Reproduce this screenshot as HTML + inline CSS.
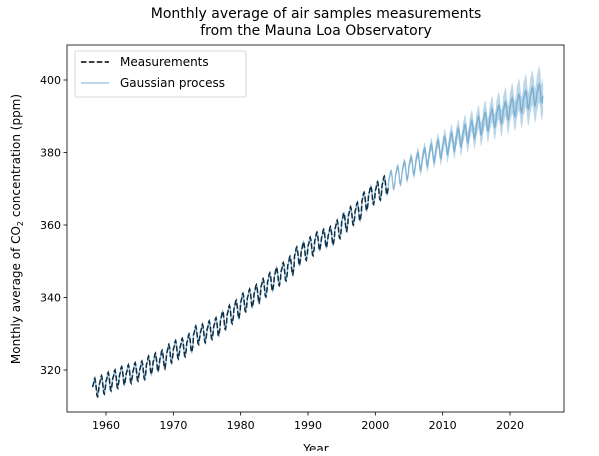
<!DOCTYPE html>
<html><head><meta charset="utf-8"><style>
body{margin:0;background:#fff}
svg{font-family:"DejaVu Sans","Liberation Sans",sans-serif}
</style></head><body>
<svg id="chart" width="599" height="451" viewBox="0 0 599 451" xmlns="http://www.w3.org/2000/svg">
<text x="316" y="18" font-size="14" text-anchor="middle">Monthly average of air samples measurements</text>
<text x="316" y="35" font-size="14" text-anchor="middle">from the Mauna Loa Observatory</text>
<g id="plot"></g>
<text x="316" y="453" font-size="12" text-anchor="middle">Year</text>
<text transform="translate(20,229) rotate(-90)" font-size="12" text-anchor="middle">Monthly average of CO<tspan font-size="8" dy="3">2</tspan><tspan dy="-3"> concentration (ppm)</tspan></text>
</svg>
<script>
const measYears=[1958,1959,1960,1961,1962,1963,1964,1965,1966,1967,1968,1969,1970,1971,1972,1973,1974,1975,1976,1977,1978,1979,1980,1981,1982,1983,1984,1985,1986,1987,1988,1989,1990,1991,1992,1993,1994,1995,1996,1997,1998,1999,2000,2001];
const measAnnual=[315.3,316.0,316.9,317.6,318.5,319.0,319.6,320.0,321.4,322.2,323.0,324.6,325.7,326.3,327.5,329.7,330.2,331.1,332.0,333.8,335.4,336.8,338.7,339.9,341.1,342.8,344.4,345.9,347.2,348.9,351.5,352.9,354.2,355.6,356.4,357.1,358.9,360.9,362.6,363.8,366.6,368.3,369.5,371.0];
const seasonal=[0.0,0.5,1.1,2.1,2.4,1.8,0.6,-1.0,-2.4,-2.6,-1.6,-0.7];
const predYears=[2002,2003,2004,2005,2006,2007,2008,2009,2010,2011,2012,2013,2014,2015,2016,2017,2018,2019,2020,2021,2022,2023,2024];
const predAnnual=[372.5,373.8,375.1,376.4,377.6,378.8,379.9,381.0,382.0,383.1,384.2,385.3,386.4,387.5,388.6,389.6,390.6,391.6,392.6,393.6,394.6,395.5,396.4];
const predStd=[0.6,0.8,1.0,1.2,1.4,1.6,1.8,2.0,2.2,2.4,2.6,2.8,3.0,3.2,3.4,3.6,3.8,4.0,4.2,4.4,4.6,4.8,5.0];
const xTicks=[1960,1970,1980,1990,2000,2010,2020];
const yTicks=[320,340,360,380,400];

const L=67,R=564,T=45,B=412;
const sx=v=>106+(v-1960)*6.733;
const sy=v=>80+(400-v)*3.625;
const NS="http://www.w3.org/2000/svg";
const g=document.getElementById('plot');
function mk(tag,attrs,parent){const e=document.createElementNS(NS,tag);for(const k in attrs)e.setAttribute(k,attrs[k]);(parent||g).appendChild(e);return e;}

const meas=[];measYears.forEach((y,i)=>seasonal.forEach((s,m)=>meas.push([y+m/12,measAnnual[i]+s])));
const pred=[];const band=[];
predYears.forEach((y,i)=>seasonal.forEach((s,m)=>{pred.push([y+m/12,predAnnual[i]+s]);band.push([y+m/12,predAnnual[i]+s,predStd[i]]);}));
const gpAll=meas.concat(pred);
const bandAll=meas.map(p=>[p[0],p[1],0.5]).concat(band);

const up=bandAll.map(p=>sx(p[0]).toFixed(1)+','+sy(p[1]+p[2]).toFixed(1));
const dn=bandAll.slice().reverse().map(p=>sx(p[0]).toFixed(1)+','+sy(p[1]-p[2]).toFixed(1));
const bandEl=mk('polygon',{points:up.concat(dn).join(' '),fill:'#1f77b4','fill-opacity':0.3});



const measEl=mk('polyline',{points:meas.map(p=>sx(p[0]).toFixed(1)+','+sy(p[1]).toFixed(1)).join(' '),fill:'none',stroke:'#000','stroke-width':1.5,'stroke-dasharray':'5.5,2.4'});



const gpEl=mk('polyline',{points:gpAll.map(p=>sx(p[0]).toFixed(1)+','+sy(p[1]).toFixed(1)).join(' '),fill:'none',stroke:'#1f77b4','stroke-opacity':0.4,'stroke-width':1.5});



const frame=mk('rect',{x:L,y:T,width:R-L,height:B-T,fill:'none',stroke:'#000','stroke-width':0.8});



xTicks.forEach(t=>{
  const x=sx(t);
  const tk=mk('line',{x1:x,x2:x,y1:B,y2:B+3.5,stroke:'#000','stroke-width':0.8});
  
  
  const lb=mk('text',{x:x,y:B+17,'font-size':11,'text-anchor':'middle'});
  lb.textContent=t;
  
  
});
yTicks.forEach(t=>{
  const y=sy(t);
  const tk=mk('line',{x1:L-3.5,x2:L,y1:y,y2:y,stroke:'#000','stroke-width':0.8});
  
  
  const lb=mk('text',{x:L-6,y:y+4,'font-size':11,'text-anchor':'end'});
  lb.textContent=t;
  
  
});

const lg=mk('g',{});


mk('rect',{x:75,y:51,width:171,height:46,rx:2,fill:'#fff','fill-opacity':0.8,stroke:'#ccc','stroke-width':0.8},lg);
const l1=mk('line',{x1:81,x2:109,y1:62,y2:62,stroke:'#000','stroke-width':1.5,'stroke-dasharray':'5.5,2.4'},lg);


const t1=mk('text',{x:120,y:66,'font-size':12},lg);t1.textContent='Measurements';


const l2=mk('line',{x1:81,x2:109,y1:83,y2:83,stroke:'#1f77b4','stroke-opacity':0.4,'stroke-width':1.5},lg);


const t2=mk('text',{x:120,y:87,'font-size':12},lg);t2.textContent='Gaussian process';


</script>
</body></html>
